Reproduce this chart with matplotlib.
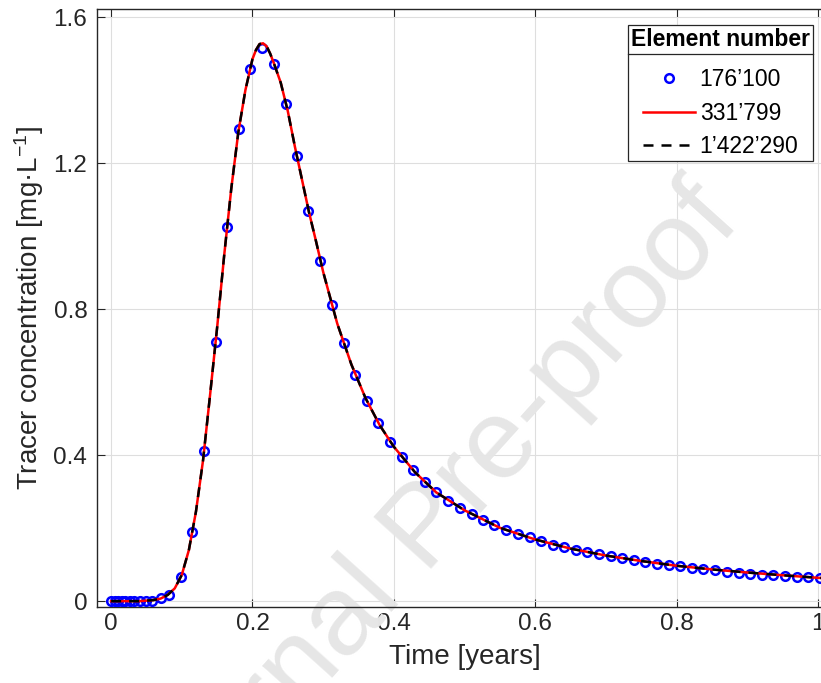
import matplotlib
matplotlib.use("Agg")
import matplotlib.pyplot as plt
from matplotlib.lines import Line2D
from matplotlib.ticker import FuncFormatter

plt.rcParams["font.family"] = ["Liberation Sans", "DejaVu Sans"]
plt.rcParams["mathtext.fontset"] = "custom"
plt.rcParams["mathtext.rm"] = "Liberation Sans"
plt.rcParams["mathtext.it"] = "Liberation Sans:italic"
plt.rcParams["mathtext.bf"] = "Liberation Sans:bold"

# coarse mesh (176'100 elements): sampled output times [years] and concentration [mg/L]
t_coarse = [0.000, 0.005, 0.010, 0.015, 0.020, 0.026, 0.033, 0.041, 0.049, 0.058,
            0.071, 0.082, 0.099, 0.115, 0.132, 0.148, 0.164, 0.181, 0.197, 0.214,
            0.230, 0.247, 0.263, 0.279, 0.296, 0.312, 0.329, 0.345, 0.362, 0.378,
            0.395, 0.411, 0.427, 0.444, 0.460, 0.477, 0.493, 0.510, 0.526, 0.542,
            0.559, 0.575, 0.592, 0.608, 0.625, 0.641, 0.658, 0.674, 0.690, 0.707,
            0.723, 0.740, 0.756, 0.773, 0.789, 0.805, 0.822, 0.838, 0.855, 0.871,
            0.888, 0.904, 0.921, 0.937, 0.953, 0.970, 0.986, 1.003]
c_coarse = [0.000, 0.000, 0.000, 0.000, 0.000, 0.000, 0.000, 0.000, 0.000, 0.001,
            0.009, 0.016, 0.065, 0.190, 0.412, 0.710, 1.026, 1.292, 1.459, 1.514,
            1.470, 1.362, 1.220, 1.070, 0.933, 0.811, 0.707, 0.619, 0.548, 0.487,
            0.436, 0.395, 0.359, 0.327, 0.298, 0.275, 0.256, 0.238, 0.222, 0.208,
            0.195, 0.184, 0.175, 0.164, 0.155, 0.148, 0.141, 0.135, 0.128, 0.123,
            0.117, 0.112, 0.108, 0.103, 0.099, 0.096, 0.092, 0.088, 0.085, 0.081,
            0.078, 0.075, 0.073, 0.071, 0.068, 0.067, 0.065, 0.063]

# finer meshes give practically the same breakthrough curve
t_fine = [0.00, 0.04, 0.06, 0.07, 0.08, 0.09, 0.10, 0.11, 0.12, 0.13,
          0.14, 0.15, 0.16, 0.17, 0.18, 0.19, 0.20, 0.205, 0.21, 0.215,
          0.22, 0.225, 0.23, 0.24, 0.25, 0.26, 0.27, 0.28, 0.29, 0.30,
          0.32, 0.34, 0.36, 0.38, 0.40, 0.43, 0.46, 0.50, 0.55, 0.60,
          0.65, 0.70, 0.75, 0.80, 0.85, 0.90, 0.95, 1.00, 1.02]
c_fine = [0.000, 0.000, 0.003, 0.007, 0.017, 0.035, 0.072, 0.140, 0.245, 0.385,
          0.565, 0.750, 0.948, 1.130, 1.285, 1.400, 1.485, 1.510, 1.526, 1.528,
          1.520, 1.500, 1.475, 1.420, 1.342, 1.245, 1.155, 1.065, 0.985, 0.902,
          0.760, 0.648, 0.556, 0.482, 0.423, 0.353, 0.298, 0.249, 0.201, 0.169,
          0.144, 0.125, 0.110, 0.097, 0.087, 0.0785, 0.071, 0.064, 0.062]
c_finest = c_fine

labels = ["176\u2019100", "331\u2019799", "1\u2019422\u2019290"]

ink = "#262626"

fig = plt.figure(figsize=(8.21, 6.83), dpi=100)
fig.patch.set_facecolor("white")
ax = fig.add_axes([97 / 821, 76 / 683, 735 / 821, 598 / 683])
ax.set_facecolor("none")

ax.plot(t_coarse, c_coarse, "o", color="blue", markerfacecolor="none",
        markersize=6.2, markeredgewidth=1.8, label=labels[0], zorder=3)
ax.plot(t_fine, c_fine, "-", color="red", lw=1.8, label=labels[1], zorder=4)
ax.plot(t_fine, c_finest, "--", color="black", lw=1.8, dashes=(4, 3.2),
        label=labels[2], zorder=5)

ax.set_xlim(-0.02, 1.02)
ax.set_ylim(-0.016, 1.622)
ax.set_xticks([0, 0.2, 0.4, 0.6, 0.8, 1.0])
ax.set_yticks([0, 0.4, 0.8, 1.2, 1.6])
fmt = FuncFormatter(lambda v, p: "%g" % round(v, 3))
ax.xaxis.set_major_formatter(fmt)
ax.yaxis.set_major_formatter(fmt)

ax.grid(True, color="#dedede", lw=0.8)
ax.set_axisbelow(True)
for s in ax.spines.values():
    s.set_color(ink)
    s.set_linewidth(1.0)
ax.tick_params(direction="in", top=True, right=True, length=5.5, width=0.8,
               color=ink, labelcolor=ink, labelsize=17.5)
ax.tick_params(axis="x", pad=4)
ax.tick_params(axis="y", pad=7)

ax.set_xlabel("Time [years]", fontsize=20, color=ink, labelpad=7)
ax.set_ylabel("Tracer concentration [mg\u00b7L$^{-1}$]", fontsize=20,
              color=ink, labelpad=5)

# watermark, under the curves
ax.text(0.520, 0.224, "Journal Pre-proof", transform=fig.transFigure,
        fontsize=82, color="#e6e6e6", rotation=48, rotation_mode="anchor",
        ha="center", va="center", zorder=1, clip_on=False)

fs = 16.5
leg = ax.legend(loc="upper right", bbox_to_anchor=(0.974, 0.973),
                borderaxespad=0, fontsize=fs, title="Element number",
                title_fontproperties={"weight": "bold", "size": fs},
                fancybox=False, framealpha=1, edgecolor=ink,
                handlelength=2.26, handletextpad=0.22, labelspacing=0.47,
                borderpad=0.12)
leg.get_frame().set_linewidth(0.9)
leg.set_zorder(10)
# a bit more room between the title and the entries
leg._legend_box.sep = 0.47 * fs + 4.5

# thin rule under the legend title
fig.canvas.draw()
r = fig.canvas.get_renderer()
fb = leg.get_frame().get_window_extent(r)
tb = leg.get_title().get_window_extent(r)
y_sep = tb.y0 - 3
fig.add_artist(Line2D([fb.x0 / fig.bbox.width, fb.x1 / fig.bbox.width],
                      [y_sep / fig.bbox.height, y_sep / fig.bbox.height],
                      transform=fig.transFigure, color=ink, lw=0.9, zorder=11))

fig.savefig("out.png", dpi=100)
